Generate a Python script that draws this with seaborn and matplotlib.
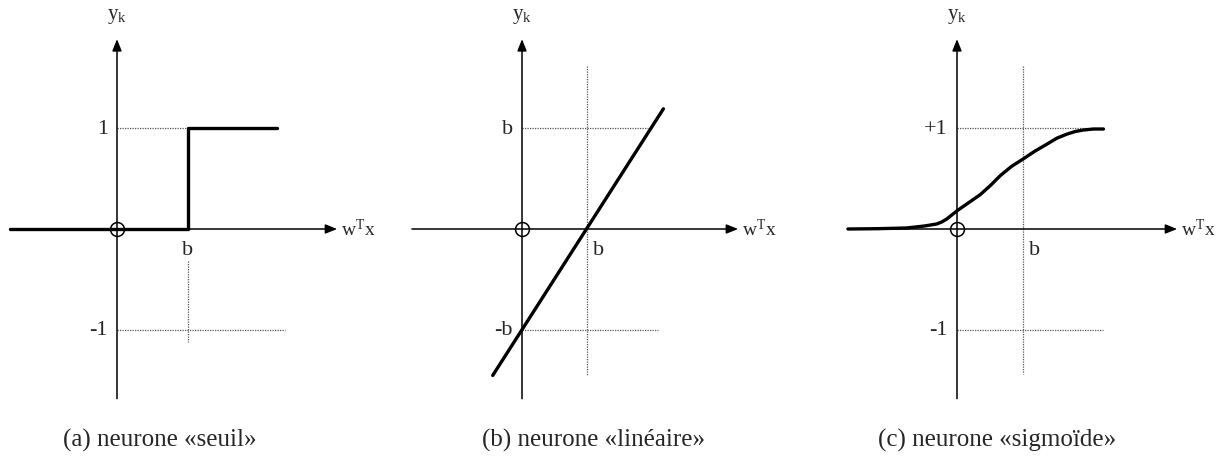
import matplotlib
matplotlib.use("Agg")
import matplotlib.pyplot as plt
import seaborn as sns

# values (x in the same unit as y, origin = 0)
step_x = [-1.06, 0.70, 0.70, 1.58]
step_y = [0.0, 0.0, 1.0, 1.0]

lin_x = [-0.29, 1.40]
lin_y = [-1.45, 1.19]

sig_x = [-1.08, -0.79, -0.50, -0.32, -0.20, -0.15, -0.10, -0.05, 0.0, 0.10, 0.23,
         0.33, 0.43, 0.54, 0.65, 0.77, 0.89, 0.99, 1.09, 1.17, 1.25, 1.35, 1.45]
sig_y = [0.0, 0.003, 0.01, 0.03, 0.05, 0.07, 0.10, 0.14, 0.18, 0.25, 0.34,
         0.43, 0.53, 0.62, 0.69, 0.77, 0.84, 0.90, 0.94, 0.965, 0.98, 0.99, 0.99]

b_pos = [0.70, 0.64, 0.65]
upper_labels = ["1", "b", "+1"]
lower_labels = ["-1", "-b", "-1"]
captions = ["(a) neurone «seuil»", "(b) neurone «linéaire»", "(c) neurone «sigmoïde»"]

sns.set_style("white")
plt.rcParams["font.family"] = ["Liberation Serif", "DejaVu Serif"]
plt.rcParams["mathtext.fontset"] = "custom"
plt.rcParams["mathtext.rm"] = "Liberation Serif"
plt.rcParams["mathtext.it"] = "Liberation Serif:italic"

W, H = 1217, 464
S = 101.0   # pixels per unit
OY = 230    # pixel row of the x axis

fig = plt.figure(figsize=(W / 100, H / 100), dpi=100)


def make_axes(left_px, right_px, ox):
    ax = fig.add_axes([left_px / W, 0, (right_px - left_px) / W, 1])
    ax.set_xlim((left_px - ox) / S, (right_px - ox) / S)
    ax.set_ylim((OY - H) / S, OY / S)
    ax.axis("off")
    return ax


def dotted(ax, xs, ys):
    ax.plot(xs, ys, color="#555555", lw=0.9, ls=(0, (1, 1)))


def draw_axes(ax, x0, x1, y0=-1.68, y1=1.88):
    ap = dict(arrowstyle="-|>,head_length=0.7,head_width=0.28", color="black",
              lw=1.1, shrinkA=0, shrinkB=0)
    ax.annotate("", xy=(x1, 0), xytext=(x0, 0), arrowprops=ap)
    ax.annotate("", xy=(0, y1), xytext=(0, y0), arrowprops=ap)
    ax.text(x1 + 0.04, 0.0, r"$\mathregular{w^{T}x}$", fontsize=14,
            ha="left", va="center")
    ax.text(0, 2.11, r"$\mathregular{y_{k}}$", fontsize=15, ha="center", va="center")
    ax.plot([0], [0], marker="o", ms=10, mfc="none", mec="black", mew=1.1,
            zorder=5)


def ylabels(ax, top, bottom):
    ax.text(-0.09, 1.0, top, fontsize=16, ha="right", va="center")
    ax.text(-0.09, -1.0, bottom, fontsize=16, ha="right", va="center")


# (a) seuil
ax = make_axes(0, 400, 117)
draw_axes(ax, -1.06, 2.18)
dotted(ax, [0, b_pos[0]], [1, 1])
dotted(ax, [0, 1.66], [-1, -1])
dotted(ax, [b_pos[0], b_pos[0]], [-0.32, -1.12])
sns.lineplot(x=step_x, y=step_y, ax=ax, color="black", lw=2.4,
             sort=False, estimator=None)
ax.text(b_pos[0], -0.2, "b", fontsize=16, ha="center", va="center")
ylabels(ax, upper_labels[0], lower_labels[0])

# (b) linéaire
ax = make_axes(400, 820, 522)
draw_axes(ax, -1.09, 2.14)
dotted(ax, [0, 1.25], [1, 1])
dotted(ax, [0, 1.35], [-1, -1])
dotted(ax, [b_pos[1], b_pos[1]], [1.61, -1.46])
sns.lineplot(x=lin_x, y=lin_y, ax=ax, color="black", lw=2.4,
             sort=False, estimator=None)
ax.text(b_pos[1] + 0.06, -0.2, "b", fontsize=16, ha="left", va="center")
ylabels(ax, upper_labels[1], lower_labels[1])

# (c) sigmoïde
ax = make_axes(820, 1217, 957)
draw_axes(ax, -1.08, 2.18)
dotted(ax, [0, 1.29], [1, 1])
dotted(ax, [0, 1.45], [-1, -1])
dotted(ax, [b_pos[2], b_pos[2]], [1.61, -1.44])
sns.lineplot(x=sig_x, y=sig_y, ax=ax, color="black", lw=2.4,
             sort=False, estimator=None)
ax.text(b_pos[2] + 0.06, -0.2, "b", fontsize=16, ha="left", va="center")
ylabels(ax, upper_labels[2], lower_labels[2])

for xpx, cap in zip([63, 482, 878], captions):
    fig.text(xpx / W, 1 - 440 / H, cap, fontsize=18, ha="left", va="center")

fig.savefig("out.png", dpi=100)
